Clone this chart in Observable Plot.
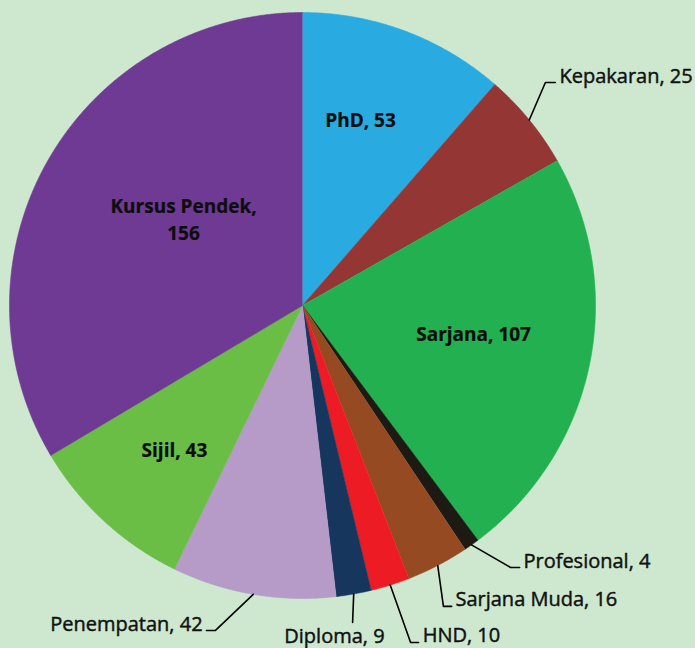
<!DOCTYPE html>
<html>
<head>
<meta charset="utf-8">
<script src="https://cdn.jsdelivr.net/npm/d3@7"></script>
<script src="https://cdn.jsdelivr.net/npm/@observablehq/plot@0.6"></script>
<style>
  html, body { margin: 0; padding: 0; background: #CDE8CF; }
  #chart { width: 695px; height: 648px; }
</style>
</head>
<body>
<div id="chart"></div>
<script>
// ---- data (clockwise from 12 o'clock) ----
const names  = ["PhD", "Kepakaran", "Sarjana", "Profesional", "Sarjana Muda", "HND", "Diploma", "Penempatan", "Sijil", "Kursus Pendek"];
const values = [53, 25, 107, 4, 16, 10, 9, 42, 43, 156];
const colors = ["#29ABE2", "#943634", "#23B050", "#1D1A14", "#954A22", "#ED1C24", "#17365D", "#B69AC8", "#6ABD45", "#6F3A94"];

// label layout (in radius units, centre = 0,0, y up)
const insideLabels = {
  "PhD":           [0.198, 0.638],
  "Kursus Pendek": [-0.406, 0.300],
  "Sarjana":       [0.584, -0.092],
  "Sijil":         [-0.437, -0.488]
};
// elbow, end of leader, text position, anchor
const outsideLabels = {
  "Kepakaran":    {elbow: [0.829, 0.761],  end: [0.863, 0.761],  text: [0.877, 0.780],  anchor: "start"},
  "Profesional":  {elbow: [0.710, -0.894], end: [0.741, -0.894], text: [0.754, -0.874], anchor: "start"},
  "Sarjana Muda": {elbow: [0.481, -1.027], end: [0.509, -1.027], text: [0.522, -1.005], anchor: "start"},
  "HND":          {elbow: [0.369, -1.150], end: [0.396, -1.150], text: [0.410, -1.125], anchor: "start"},
  "Diploma":      {elbow: [0.171, -1.082], end: [0.171, -1.082], text: [0.109, -1.130], anchor: "middle"},
  "Penempatan":   {elbow: [-0.297, -1.109], end: [-0.328, -1.109], text: [-0.341, -1.089], anchor: "end"}
};

// ---- geometry from data ----
const W = 695, H = 648, cx = 302, cy = 305, R = 293;
const arcs = d3.pie().sort(null).value(d => d)(values);

const slicePts = [];
arcs.forEach((a, i) => {
  slicePts.push({name: names[i], x: 0, y: 0});
  const n = Math.max(2, Math.ceil((a.endAngle - a.startAngle) / 0.005));
  for (let k = 0; k <= n; k++) {
    const t = a.startAngle + (a.endAngle - a.startAngle) * k / n;
    slicePts.push({name: names[i], x: Math.sin(t), y: Math.cos(t)});
  }
});

const leaderPts = [];
const outText = [];
arcs.forEach((a, i) => {
  const L = outsideLabels[names[i]];
  if (!L) return;
  const m = (a.startAngle + a.endAngle) / 2;
  leaderPts.push({name: names[i], x: Math.sin(m), y: Math.cos(m)});
  leaderPts.push({name: names[i], x: L.elbow[0], y: L.elbow[1]});
  leaderPts.push({name: names[i], x: L.end[0], y: L.end[1]});
  outText.push({name: names[i], label: `${names[i]}, ${values[i]}`, x: L.text[0], y: L.text[1], anchor: L.anchor});
});

const inText = names.map((n, i) => insideLabels[n] ? {
  label: n === "Kursus Pendek" ? `${n},\n${values[i]}` : `${n}, ${values[i]}`,
  x: insideLabels[n][0], y: insideLabels[n][1]
} : null).filter(Boolean);

const font = "'Open Sans', 'Noto Sans', sans-serif";
const outOpts = {fontFamily: font, fontSize: 20, fill: "#111", stroke: "#111", strokeWidth: 0.45};
const inOpts = {fontFamily: font, fontSize: 19, fontWeight: "bold", fill: "#0d0d0d", stroke: "#0d0d0d", strokeWidth: 0.2, lineHeight: 1.42};

const plot = Plot.plot({
  width: W, height: H,
  margin: 0,
  x: {domain: [-cx / R, (W - cx) / R], axis: null},
  y: {domain: [(cy - H) / R, cy / R], axis: null},
  color: {domain: names, range: colors},
  style: {background: "#CDE8CF", overflow: "visible"},
  marks: [
    Plot.line(slicePts, {x: "x", y: "y", z: "name", fill: "name", stroke: "name", strokeWidth: 0.6, curve: "linear"}),
    Plot.line(leaderPts, {x: "x", y: "y", z: "name", stroke: "#000", strokeWidth: 1.6, curve: "linear"}),
    Plot.text(inText, {x: "x", y: "y", text: "label", ...inOpts}),
    Plot.text(outText.filter(d => d.anchor === "start"), {x: "x", y: "y", text: "label", textAnchor: "start", ...outOpts}),
    Plot.text(outText.filter(d => d.anchor === "end"), {x: "x", y: "y", text: "label", textAnchor: "end", ...outOpts}),
    Plot.text(outText.filter(d => d.anchor === "middle"), {x: "x", y: "y", text: "label", textAnchor: "middle", ...outOpts})
  ]
});
document.getElementById("chart").appendChild(plot);
</script>
</body>
</html>
